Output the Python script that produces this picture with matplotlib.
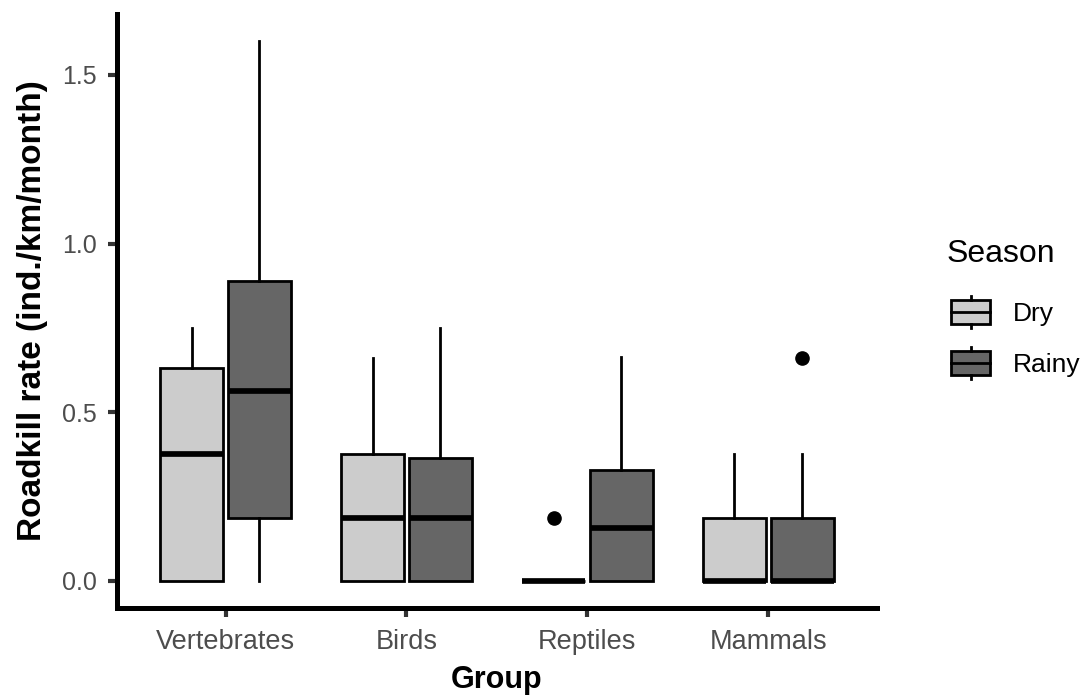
import matplotlib
matplotlib.use("Agg")
import matplotlib.pyplot as plt
from matplotlib.patches import Rectangle, Patch
from matplotlib.lines import Line2D
from matplotlib.legend_handler import HandlerBase

plt.rcParams['font.family'] = ['Liberation Sans', 'DejaVu Sans']

groups = ["Vertebrates", "Birds", "Reptiles", "Mammals"]
seasons = ["Dry", "Rainy"]
colors = {"Dry": "#CCCCCC", "Rainy": "#666666"}

# box statistics (per group)
dry_whislo = [0.0, 0.0, 0.0, 0.0]
dry_q1 = [0.0, 0.0, 0.0, 0.0]
dry_med = [0.375, 0.1875, 0.0, 0.0]
dry_q3 = [0.63, 0.375, 0.0, 0.1875]
dry_whishi = [0.75, 0.66, 0.0, 0.375]
dry_fliers = [[], [], [0.1875], []]

rainy_whislo = [0.0, 0.0, 0.0, 0.0]
rainy_q1 = [0.1875, 0.0, 0.0, 0.0]
rainy_med = [0.5625, 0.1875, 0.156, 0.0]
rainy_q3 = [0.89, 0.365, 0.33, 0.1875]
rainy_whishi = [1.6, 0.75, 0.665, 0.375]
rainy_fliers = [[], [], [], [0.66]]

yticks = [0.0, 0.5, 1.0, 1.5]
ytick_labels = ["0.0", "0.5", "1.0", "1.5"]

fig = plt.figure(figsize=(10.84, 6.97), dpi=100)
ax = fig.add_axes([0.1079, 0.1277, 0.7011, 0.8522])

stat_sets = {
    "Dry": (dry_whislo, dry_q1, dry_med, dry_q3, dry_whishi, dry_fliers),
    "Rainy": (rainy_whislo, rainy_q1, rainy_med, rainy_q3, rainy_whishi, rainy_fliers),
}
offsets = {"Dry": -0.1875, "Rainy": 0.1875}
edge_lw = 2.0
for s in seasons:
    lo, q1, med, q3, hi, fl = stat_sets[s]
    stats = []
    for i in range(len(groups)):
        stats.append(dict(whislo=lo[i], q1=q1[i], med=med[i], q3=q3[i],
                          whishi=hi[i], fliers=fl[i]))
    pos = [i + 1 + offsets[s] for i in range(len(groups))]
    ax.bxp(stats, positions=pos, widths=0.35, patch_artist=True,
           showcaps=False, manage_ticks=False,
           boxprops=dict(facecolor=colors[s], edgecolor="black", linewidth=edge_lw),
           medianprops=dict(color="black", linewidth=4.1, solid_capstyle="butt"),
           whiskerprops=dict(color="black", linewidth=edge_lw),
           flierprops=dict(marker="o", markerfacecolor="black", markeredgecolor="black",
                           markersize=9.5))

ax.set_xlim(0.4, 4.6)
ax.set_ylim(-0.08, 1.68)
ax.set_xticks(range(1, len(groups) + 1))
ax.set_xticklabels(groups)
ax.set_yticks(yticks)
ax.set_yticklabels(ytick_labels)
ax.tick_params(axis="both", colors="#333333", width=3.0, length=6.5,
               labelcolor="#4D4D4D")
ax.tick_params(axis="x", pad=8.5, labelsize=19.5)
ax.tick_params(axis="y", pad=8, labelsize=18)
for sp in ["top", "right"]:
    ax.spines[sp].set_visible(False)
for sp in ["left", "bottom"]:
    ax.spines[sp].set_linewidth(3.6)
    ax.spines[sp].set_color("black")
    ax.spines[sp].set_capstyle("projecting")

ax.set_xlabel("Group", fontsize=22, fontweight="bold", labelpad=7.5)
ax.set_ylabel("Roadkill rate (ind./km/month)", fontsize=24, fontweight="bold", labelpad=10)


class BoxHandler(HandlerBase):
    def create_artists(self, legend, orig_handle, xdescent, ydescent, width, height,
                       fontsize, trans):
        x0, y0 = -xdescent, -ydescent
        fc = orig_handle.get_facecolor()
        rect = Rectangle((x0, y0 + 0.125 * height), width, 0.75 * height,
                         facecolor=fc, edgecolor="black", linewidth=edge_lw, transform=trans)
        xm = x0 + width / 2
        w1 = Line2D([xm, xm], [y0, y0 + 0.125 * height], color="black",
                    linewidth=edge_lw, transform=trans)
        w2 = Line2D([xm, xm], [y0 + 0.875 * height, y0 + height], color="black",
                    linewidth=edge_lw, transform=trans)
        med = Line2D([x0, x0 + width], [y0 + 0.5 * height] * 2, color="black",
                     linewidth=edge_lw, transform=trans)
        return [rect, w1, w2, med]


fig.text(947 / 1084, 1 - 254 / 697, "Season", ha="left", va="center", fontsize=23)

handles = [Patch(facecolor=colors[s], edgecolor="black") for s in seasons]
leg = fig.legend(handles, seasons, handler_map={Patch: BoxHandler()},
                 loc="center left", bbox_to_anchor=(0.8773, 1 - 337.5 / 697), frameon=False,
                 fontsize=19,
                 handlelength=1.48, handleheight=1.5, handletextpad=0.87,
                 labelspacing=0.7, borderpad=0, borderaxespad=0)

fig.savefig("out.png", dpi=100)
